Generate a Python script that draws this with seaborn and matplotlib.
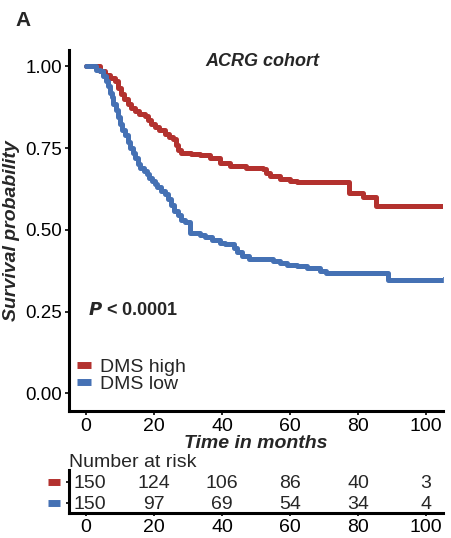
import numpy as np
import pandas as pd
import matplotlib
matplotlib.use("Agg")
import matplotlib.pyplot as plt
import matplotlib.transforms as mtransforms
from matplotlib.lines import Line2D
import seaborn as sns

sns.set_theme(style="white")
plt.rcParams['font.family'] = ['Liberation Sans', 'DejaVu Sans']

# ---- data ----
groups = ["DMS high", "DMS low"]
colors = ["#B3312E", "#4571B4"]

high_time = [0, 4, 5.5, 7, 8.5, 9.5, 10.4, 11.3, 12.3, 13.3, 14.3, 15.5, 17.3, 18.3, 19.2, 20.2,
             21.5, 23.1, 24.3, 25.5, 26.5, 27.2, 28, 31, 33.5, 36.4, 39.3, 42.3, 47, 52, 53, 54,
             57, 60, 62, 77.3, 81.4, 85.4, 105.5]
high_surv = [1.0, 0.985, 0.975, 0.965, 0.955, 0.935, 0.915, 0.9, 0.885, 0.872, 0.863, 0.855,
             0.848, 0.835, 0.825, 0.815, 0.805, 0.793, 0.785, 0.777, 0.76, 0.745, 0.735, 0.733,
             0.728, 0.72, 0.705, 0.695, 0.69, 0.685, 0.675, 0.664, 0.656, 0.65, 0.645, 0.614,
             0.599, 0.574, 0.574]

low_time = [0, 3, 4, 5, 6, 6.5, 7, 7.5, 8, 8.7, 9.3, 10, 10.7, 11.5, 12.3, 13, 13.7, 14.5, 15.2,
            16, 17, 17.8, 18.5, 19.3, 20.2, 21, 22, 23.1, 24, 25, 26, 27, 28, 29, 30.7, 33.5, 35,
            37, 39.3, 41, 43.5, 44.5, 46, 48, 55, 57, 59, 62, 65, 68.7, 70.6, 88.9, 105.3]
low_surv = [1.0, 0.99, 0.985, 0.97, 0.955, 0.94, 0.92, 0.905, 0.885, 0.865, 0.845, 0.825, 0.805,
            0.79, 0.77, 0.75, 0.735, 0.72, 0.70, 0.69, 0.68, 0.67, 0.66, 0.65, 0.64, 0.63, 0.62,
            0.61, 0.595, 0.575, 0.558, 0.545, 0.53, 0.525, 0.49, 0.485, 0.477, 0.468, 0.461,
            0.456, 0.445, 0.432, 0.42, 0.41, 0.405, 0.398, 0.392, 0.388, 0.383, 0.375, 0.368,
            0.347, 0.347]

risk_times = [0, 20, 40, 60, 80, 100]
risk_high = [150, 124, 106, 86, 40, 3]
risk_low = [150, 97, 69, 54, 34, 4]

x_ticks = [0, 20, 40, 60, 80, 100]
y_ticks = [0.00, 0.25, 0.50, 0.75, 1.00]
y_ticklabels = ["0.00", "0.25", "0.50", "0.75", "1.00"]

df = pd.concat([
    pd.DataFrame({"time": high_time, "surv": high_surv, "group": groups[0]}),
    pd.DataFrame({"time": low_time, "surv": low_surv, "group": groups[1]}),
], ignore_index=True)

W, H = 451, 538
fig = plt.figure(figsize=(W / 100, H / 100), dpi=100)

def rect(l, t, r, b):
    return [l / W, 1 - b / H, (r - l) / W, (b - t) / H]

ax = fig.add_axes(rect(69, 50, 443, 411))
ax2 = fig.add_axes(rect(69, 470, 443, 513))

palette = dict(zip(groups, colors))
sns.lineplot(data=df, x="time", y="surv", hue="group", palette=palette,
             estimator=None, sort=True, drawstyle="steps-post", linewidth=3.6,
             ax=ax, legend=False)
for g, t, s in [(groups[0], high_time, high_surv), (groups[1], low_time, low_surv)]:
    ax.plot([t[-1]], [s[-1]], marker="|", color=palette[g], markersize=5, mew=1.2)

ax.set_xlim(-5, 105)
ax.set_ylim(-0.054, 1.05)
ax.set_xticks(x_ticks)
ax.set_xticklabels([str(v) for v in x_ticks], fontsize=14, color="black")
ax.set_yticks(y_ticks)
ax.set_yticklabels(y_ticklabels, fontsize=13.5, color="black")
ax.tick_params(axis="both", length=3, width=1.2, color="black", pad=2, direction="out",
               bottom=True, left=True)
for side in ["top", "right"]:
    ax.spines[side].set_visible(False)
for side in ["left", "bottom"]:
    ax.spines[side].set_linewidth(2.2)
    ax.spines[side].set_color("black")
ax.set_xlabel("Time in months", fontsize=14, fontweight="bold", fontstyle="italic", labelpad=0)
ax.set_ylabel("Survival probability", fontsize=14, fontweight="bold", fontstyle="italic", labelpad=4)

ax.text(52, 1.015, "ACRG cohort", fontsize=13, fontweight="bold", fontstyle="italic",
        ha="center", va="center")
ax.text(0.5, 0.253, r"$\bfit{P}$" + " < 0.0001", fontsize=13, fontweight="bold",
        ha="left", va="center")

handles = [Line2D([0], [0], color=c, lw=5, solid_capstyle="butt") for c in colors]
leg = ax.legend(handles, groups, loc="lower left", bbox_to_anchor=(0.005, 0.033),
                frameon=False, fontsize=14, handlelength=0.75, handletextpad=0.45,
                labelspacing=0.0, borderaxespad=0.3, borderpad=0.0)

# ---- risk table ----
ax2.set_xlim(-5, 105)
ax2.set_ylim(-0.48, 1.57)
for row_y, vals in [(1, risk_high), (0, risk_low)]:
    for t, v in zip(risk_times, vals):
        ax2.text(t + (1.2 if t == 0 else 0), row_y, str(v), ha="center",
                 va="center_baseline", fontsize=14)
ax2.set_xticks(x_ticks)
ax2.set_xticklabels([str(v) for v in x_ticks], fontsize=14, color="black")
ax2.set_yticks([1, 0])
ax2.set_yticklabels(["", ""])
ax2.tick_params(axis="both", length=2, width=1.2, color="black", pad=2, direction="out",
                bottom=True, left=True)
for side in ["top", "right"]:
    ax2.spines[side].set_visible(False)
for side in ["left", "bottom"]:
    ax2.spines[side].set_linewidth(2.2)
    ax2.spines[side].set_color("black")
trans = mtransforms.blended_transform_factory(ax2.transAxes, ax2.transData)
for row_y, c in [(1, colors[0]), (0, colors[1])]:
    ax2.plot([-0.057, -0.025], [row_y, row_y], color=c, lw=5, transform=trans,
             clip_on=False, solid_capstyle="butt")
ax2.text(0.0, 0.97, "Number at risk", transform=ax2.transAxes,
         fontsize=14, ha="left", va="bottom")

fig.text(15 / W, 1 - 21 / H, "A", fontsize=15, fontweight="bold", ha="left", va="center")

fig.savefig("out.png", dpi=100, facecolor="white")
